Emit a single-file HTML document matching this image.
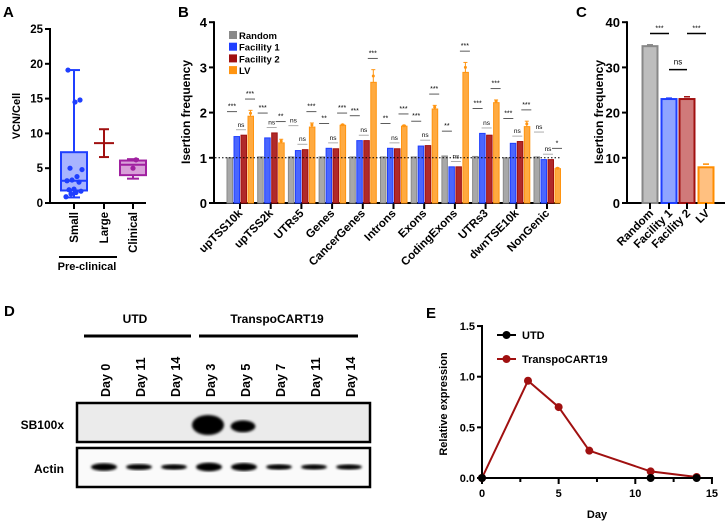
<!DOCTYPE html>
<html><head><meta charset="utf-8"><style>
html,body{margin:0;padding:0;background:#fff}
svg{display:block;font-family:"Liberation Sans",Arial,sans-serif;font-weight:bold}
</style></head><body>
<svg id="fig" width="726" height="523" viewBox="0 0 726 523">
<g id="A"></g>
<g id="B"></g>
<g id="C"></g>
<g id="D"></g>
<g id="E"></g>
</svg>
<script>
// ---- Panel A data
const aCats=["Small","Large","Clinical"];
const aSmallPts=[0.9,1.3,1.5,1.7,1.9,2.0,3.0,3.2,3.3,3.8,4.8,5.0,14.5,14.8,19.1];
const aBox={Small:[0.8,1.8,3.2,7.3,19.1],Clinical:[3.5,4.0,5.5,6.1,6.3]};
const aLarge=[6.6,8.6,10.6];
const aClinPts=[5.0,6.2];
const aTicks=[0,5,10,15,20,25];
// ---- Panel B data
const bCats=["upTSS10k","upTSS2k","UTRs5","Genes","CancerGenes","Introns","Exons","CodingExons","UTRs3","dwnTSE10k","NonGenic"];
const bRandom=[1.0,1.02,1.02,1.02,1.02,1.02,1.02,1.04,1.03,1.0,1.02];
const bFac1=[1.47,1.44,1.16,1.21,1.38,1.21,1.26,0.8,1.54,1.32,0.96];
const bFac2=[1.5,1.55,1.18,1.2,1.38,1.2,1.27,0.8,1.5,1.36,0.96];
const bLV=[1.92,1.33,1.68,1.72,2.67,1.7,2.08,2.89,2.22,1.69,0.76];
const bLVerr=[0.13,0.08,0.09,0.02,0.28,0.02,0.08,0.22,0.06,0.12,0.02];
const bSigL=["***","***","ns","**","***","**","***","**","***","***","ns"];
const bSigM=["ns","ns","ns","ns","ns","ns","ns","ns","ns","ns","ns"];
const bSigR=["***","**","***","***","***","***","***","***","***","***","*"];
const bSeries=["Random","Facility 1","Facility 2","LV"];
const bTicks=[0,1,2,3,4];
// ---- Panel C data
const cCats=["Random","Facility 1","Facility 2","LV"];
const cVals=[34.7,23.0,23.0,7.9];
const cErr=[0.3,0.2,0.5,0.7];
const cTicks=[0,10,20,30,40];
// ---- Panel D data
const dLanes=["Day 0","Day 11","Day 14","Day 3","Day 5","Day 7","Day 11","Day 14"];
const dSB=[0,0,0,1.0,0.55,0,0,0];
const dActin=[0.8,0.55,0.5,0.95,0.85,0.5,0.45,0.45];
// ---- Panel E data
const eDaysT=[0,3,5,7,11,14];
const eValsT=[0,0.96,0.7,0.27,0.065,0.01];
const eDaysU=[0,11,14];
const eValsU=[0,0,0];
const eXTicks=[0,5,10,15];
const eYTicks=[0,0.5,1.0,1.5];

const NS="http://www.w3.org/2000/svg";
function mk(p,tag,at,txt){const e=document.createElementNS(NS,tag);for(const k in at)e.setAttribute(k,at[k]);if(txt!==undefined)e.textContent=txt;p.appendChild(e);return e;}
const blue="#1f3fff",red="#a01010",orange="#ff9410",grey="#8a8a8a";

// ===== Panel A
(function(){
const g=document.getElementById('A');
const y=v=>203-v*6.96, xs=[74,104,133];
let t=mk(g,'text',{x:3,y:17,'font-size':15},'A');
mk(g,'line',{x1:50,y1:y(25)-1,x2:50,y2:204,stroke:'#000','stroke-width':2});
mk(g,'line',{x1:49,y1:203,x2:146,y2:203,stroke:'#000','stroke-width':2});
aTicks.forEach(v=>{mk(g,'line',{x1:45,x2:50,y1:y(v),y2:y(v),stroke:'#000','stroke-width':2});
 const tl=mk(g,'text',{x:43,y:y(v)+4,'font-size':11.5,'text-anchor':'end'},v);});
t=mk(g,'text',{transform:'translate(20,116) rotate(-90)','font-size':11,'text-anchor':'middle'},'VCN/Cell');
aCats.forEach((c,i)=>{mk(g,'line',{x1:xs[i],x2:xs[i],y1:203,y2:209,stroke:'#000','stroke-width':2});
 const tl=mk(g,'text',{transform:`translate(${xs[i]+4},212) rotate(-90)`,'font-size':11.5,'text-anchor':'end'},c);});
function box(b,x,col,fill){const w=13;
 mk(g,'line',{x1:x,x2:x,y1:y(b[0]),y2:y(b[4]),stroke:col,'stroke-width':2});
 mk(g,'line',{x1:x-6,x2:x+6,y1:y(b[0]),y2:y(b[0]),stroke:col,'stroke-width':2});
 mk(g,'line',{x1:x-6,x2:x+6,y1:y(b[4]),y2:y(b[4]),stroke:col,'stroke-width':2});
 const r=mk(g,'rect',{x:x-w,y:y(b[3]),width:2*w,height:y(b[1])-y(b[3]),fill:fill,stroke:col,'stroke-width':2});
 
 mk(g,'line',{x1:x-w,x2:x+w,y1:y(b[2]),y2:y(b[2]),stroke:col,'stroke-width':2});}
box(aBox.Small,xs[0],blue,'#a8b4ff');
box(aBox.Clinical,xs[2],'#a020a0','#d9a0d9');
aSmallPts.forEach((v,i)=>{const c=mk(g,'circle',{cx:xs[0]-8+(i*5%17),cy:y(v),r:2.6,fill:blue});});
aClinPts.forEach((v,i)=>{const c=mk(g,'circle',{cx:xs[2]+(i?3:0),cy:y(v),r:2.6,fill:'#a020a0'});});
mk(g,'line',{x1:xs[1],x2:xs[1],y1:y(aLarge[0]),y2:y(aLarge[2]),stroke:red,'stroke-width':2});
aLarge.forEach((v,i)=>mk(g,'line',{x1:xs[1]-(i==1?10:5),x2:xs[1]+(i==1?10:5),y1:y(v),y2:y(v),stroke:red,'stroke-width':2}));
mk(g,'line',{x1:59,x2:117,y1:257,y2:257,stroke:'#000','stroke-width':2});
t=mk(g,'text',{x:87,y:270,'font-size':11,'text-anchor':'middle'},'Pre-clinical');
})();

// ===== Panel B
(function(){
const g=document.getElementById('B');
const y=v=>203-v*45.2, xc=i=>240+i*30.7;
const cols=[grey,blue,red,orange], fills=['#a8a8a8','#4a66ff','#b02a2a','#ffaa40'];
let t=mk(g,'text',{x:178,y:17,'font-size':15},'B');
mk(g,'line',{x1:214,y1:y(4)-1,x2:214,y2:204,stroke:'#000','stroke-width':2});
mk(g,'line',{x1:213,y1:203,x2:560,y2:203,stroke:'#000','stroke-width':2});
bTicks.forEach(v=>{mk(g,'line',{x1:209,x2:214,y1:y(v),y2:y(v),stroke:'#000','stroke-width':2});
 const tl=mk(g,'text',{x:207,y:y(v)+5,'font-size':13,'text-anchor':'end'},v);});
t=mk(g,'text',{transform:'translate(190,112) rotate(-90)','font-size':12,'text-anchor':'middle'},'Isertion frequency');
const series=[bRandom,bFac1,bFac2,bLV];
bCats.forEach((c,i)=>{const x=xc(i);
 mk(g,'line',{x1:x,x2:x,y1:203,y2:209,stroke:'#000','stroke-width':2});
 const tl=mk(g,'text',{transform:`translate(${x+3},214) rotate(-45)`,'font-size':11.5,'text-anchor':'end'},c);
 series.forEach((s,k)=>{const bx=x-13.5+k*7;
  const r=mk(g,'rect',{x:bx+0.5,y:y(s[i]),width:5.5,height:203-y(s[i]),fill:fills[k],stroke:cols[k],'stroke-width':1});
  });
 const lx=x+10.5;
 mk(g,'line',{x1:lx,x2:lx,y1:y(bLV[i]+bLVerr[i]),y2:y(bLV[i]),stroke:orange,'stroke-width':1});
 mk(g,'line',{x1:lx-2,x2:lx+2,y1:y(bLV[i]+bLVerr[i]),y2:y(bLV[i]+bLVerr[i]),stroke:orange,'stroke-width':1});
 mk(g,'circle',{cx:lx,cy:y(bLV[i]+bLVerr[i]*0.5),r:1.5,fill:orange});
 const yl=Math.max(bRandom[i],bFac1[i])+0.55, ym=Math.max(bFac1[i],bFac2[i])+0.12, yr=Math.max(bLV[i]+bLVerr[i],bFac2[i])+0.25;
 [[bSigL[i],x-8,yl],[bSigM[i],x+1,ym],[bSigR[i],x+10,yr]].forEach(([s,sx,sv])=>{
  mk(g,'line',{x1:sx-5,x2:sx+5,y1:y(sv),y2:y(sv),stroke:s=='ns'?'#999':'#333','stroke-width':0.8});
  const st=mk(g,'text',{x:sx,y:y(sv)-3,'font-size':s=='ns'?6.5:7,'font-weight':'normal','text-anchor':'middle'},s);});
});
mk(g,'line',{x1:215,x2:560,y1:y(1),y2:y(1),stroke:'#000','stroke-width':1,'stroke-dasharray':'1.5,2'});
bSeries.forEach((s,k)=>{const ly=31+k*11.7;
 const r=mk(g,'rect',{x:229,y:ly,width:8,height:8,fill:cols[k]});
 const lt=mk(g,'text',{x:239,y:ly+8,'font-size':9.5},s);});
})();

// ===== Panel C
(function(){
const g=document.getElementById('C');
const y=v=>203-v*4.52, xs=[650,669,687,706];
const cols=['#888','#1f3fff','#a01010','#ff8c00'], fills=['#bdbdbd','#8fa5ff','#d07a7a','#ffc080'];
let t=mk(g,'text',{x:576,y:17,'font-size':15},'C');
mk(g,'line',{x1:627,y1:y(40)-1,x2:627,y2:204,stroke:'#000','stroke-width':2});
mk(g,'line',{x1:626,y1:203,x2:725,y2:203,stroke:'#000','stroke-width':2});
cTicks.forEach(v=>{mk(g,'line',{x1:622,x2:627,y1:y(v),y2:y(v),stroke:'#000','stroke-width':2});
 const tl=mk(g,'text',{x:620,y:y(v)+5,'font-size':13,'text-anchor':'end'},v);});
t=mk(g,'text',{transform:'translate(603,112) rotate(-90)','font-size':12,'text-anchor':'middle'},'Isertion frequency');
cCats.forEach((c,i)=>{const x=xs[i];
 const r=mk(g,'rect',{x:x-7.5,y:y(cVals[i]),width:15,height:203-y(cVals[i]),fill:fills[i],stroke:cols[i],'stroke-width':2});
 
 mk(g,'line',{x1:x-3,x2:x+3,y1:y(cVals[i]+cErr[i]),y2:y(cVals[i]+cErr[i]),stroke:cols[i],'stroke-width':1.5});
 mk(g,'line',{x1:x,x2:x,y1:203,y2:209,stroke:'#000','stroke-width':2});
 const tl=mk(g,'text',{transform:`translate(${x+4},214) rotate(-45)`,'font-size':11.5,'text-anchor':'end'},c);});
[["***",650,669,37.5],["ns",669,687,29.5],["***",687,706,37.5]].forEach(([s,a,b,v])=>{
 mk(g,'line',{x1:a,x2:b,y1:y(v),y2:y(v),stroke:'#000','stroke-width':1.5});
 const st=mk(g,'text',{x:(a+b)/2,y:y(v)-(s=='ns'?5:3),'font-size':s=='ns'?8:7,'font-weight':'normal','text-anchor':'middle'},s);});
})();

// ===== Panel D
(function(){
const g=document.getElementById('D');
const xs=[105,140,175,210,245,280,315,350];
let t=mk(g,'text',{x:4,y:316,'font-size':15},'D');
t=mk(g,'text',{x:135,y:323,'font-size':12,'text-anchor':'middle'},'UTD');
t=mk(g,'text',{x:277,y:323,'font-size':12,'text-anchor':'middle'},'TranspoCART19');
mk(g,'line',{x1:84,x2:191,y1:336,y2:336,stroke:'#000','stroke-width':3});
mk(g,'line',{x1:199,x2:358,y1:336,y2:336,stroke:'#000','stroke-width':3});
dLanes.forEach((l,i)=>{const tl=mk(g,'text',{transform:`translate(${xs[i]+5},397) rotate(-90)`,'font-size':12.5},l);});
const defs=mk(g,'defs',{});const f=mk(defs,'filter',{id:'blur'});mk(f,'feGaussianBlur',{stdDeviation:1.2});
let b=mk(g,'rect',{x:77,y:403,width:293,height:39,fill:'#ebebeb',stroke:'#000','stroke-width':2.5});
b=mk(g,'rect',{x:77,y:448,width:293,height:39,fill:'#fafafa',stroke:'#000','stroke-width':2.5});
dSB.forEach((v,i)=>{if(v<=0)return;const e=mk(g,'ellipse',{cx:xs[i]-2,cy:428-v*3,rx:14*Math.sqrt(v)+2,ry:9*v+1,fill:'#000',filter:'url(#blur)'});});
dActin.forEach((v,i)=>{const e=mk(g,'ellipse',{cx:xs[i]-1,cy:467,rx:13,ry:1+v*3.5,fill:'#000',filter:'url(#blur)'});});
t=mk(g,'text',{x:64,y:429,'font-size':12,'text-anchor':'end'},'SB100x');
t=mk(g,'text',{x:64,y:473,'font-size':12,'text-anchor':'end'},'Actin');
})();

// ===== Panel E
(function(){
const g=document.getElementById('E');
const x=v=>482+v*15.33, y=v=>478-v*101.3;
let t=mk(g,'text',{x:426,y:318,'font-size':15},'E');
mk(g,'line',{x1:482,y1:y(1.5)-1,x2:482,y2:479,stroke:'#000','stroke-width':2});
mk(g,'line',{x1:481,y1:478,x2:713,y2:478,stroke:'#000','stroke-width':2});
eYTicks.forEach(v=>{mk(g,'line',{x1:477,x2:482,y1:y(v),y2:y(v),stroke:'#000','stroke-width':2});
 const tl=mk(g,'text',{x:475,y:y(v)+4,'font-size':11,'text-anchor':'end'},v.toFixed(1));});
for(let d=0;d<=15;d+=2.5){mk(g,'line',{x1:x(d),x2:x(d),y1:478,y2:d%5==0?484:482,stroke:'#000','stroke-width':2});}
eXTicks.forEach(v=>{const tl=mk(g,'text',{x:x(v),y:497,'font-size':11,'text-anchor':'middle'},v);});
t=mk(g,'text',{transform:'translate(447,404) rotate(-90)','font-size':11,'text-anchor':'middle'},'Relative expression');
t=mk(g,'text',{x:597,y:518,'font-size':11,'text-anchor':'middle'},'Day');
const l=mk(g,'polyline',{points:eDaysT.map((d,i)=>x(d)+','+y(eValsT[i])).join(' '),fill:'none',stroke:red,'stroke-width':2});
eDaysT.forEach((d,i)=>{const c=mk(g,'circle',{cx:x(d),cy:y(eValsT[i]),r:4,fill:red});});
const l2=mk(g,'polyline',{points:eDaysU.map((d,i)=>x(d)+','+y(eValsU[i])).join(' '),fill:'none',stroke:'#000','stroke-width':2});
eDaysU.forEach((d,i)=>{const c=mk(g,'circle',{cx:x(d),cy:y(eValsU[i]),r:4,fill:'#000'});});
[["UTD",'#000',335],["TranspoCART19",red,359]].forEach(([n,c,ly])=>{
 mk(g,'line',{x1:497,x2:516,y1:ly,y2:ly,stroke:c,'stroke-width':2});mk(g,'circle',{cx:506.5,cy:ly,r:4,fill:c});
 const lt=mk(g,'text',{x:522,y:ly+4,'font-size':11},n);});
})();
</script>
</body></html>
